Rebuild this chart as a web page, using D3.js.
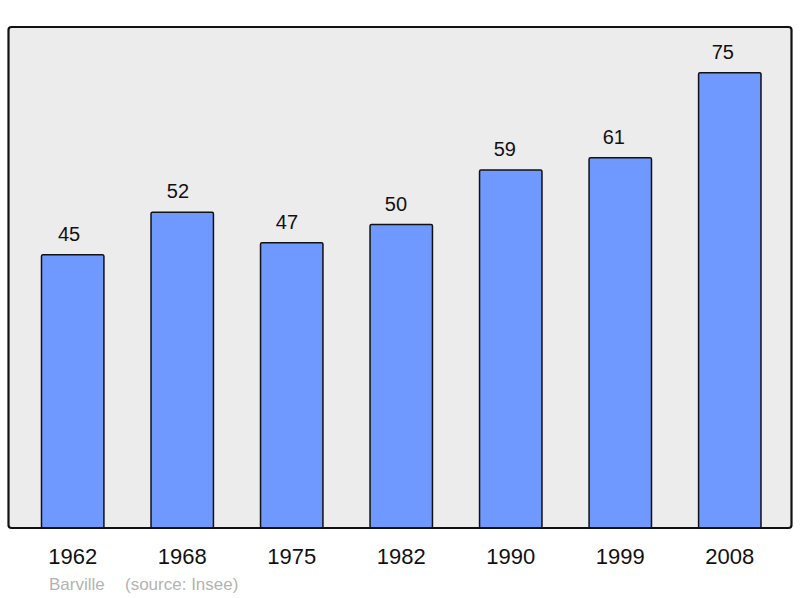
<!DOCTYPE html>
<html><head><meta charset="utf-8">
<script src="https://cdn.jsdelivr.net/npm/d3@7"></script>
<style>body{margin:0;background:#fff}svg{display:block}</style>
</head><body>
<script>
const years = ["1962","1968","1975","1982","1990","1999","2008"];
const population = [45,52,47,50,59,61,75];
const townName = "Barville";
const sourceText = "(source: Insee)";

const W = 800, H = 598;
const svg = d3.select("body").append("svg").attr("width", W).attr("height", H);
const frame = {x0: 8.5, y0: 27, x1: 791.5, y1: 528};

svg.append("rect").attr("x", frame.x0).attr("y", frame.y0)
  .attr("width", frame.x1 - frame.x0).attr("height", frame.y1 - frame.y0)
  .attr("rx", 3).attr("fill", "#ececec");

const x = d3.scaleBand().domain(years).range([18.5, 784]).paddingInner(0.43).paddingOuter(0.21);
const xLabel = d3.scalePoint().domain(years).range([69, 722.8]);
const y = d3.scaleLinear().domain([0, 82.54]).range([frame.y1, frame.y0]);

const g = svg.append("g");
g.selectAll("rect.bar").data(population).join("rect").attr("class","bar")
  .attr("x", (d,i) => x(years[i]))
  .attr("y", d => y(d))
  .attr("width", x.bandwidth())
  .attr("height", d => y(0) - y(d))
  .attr("rx", 1.5)
  .attr("fill", "#7099ff").attr("stroke", "#111").attr("stroke-width", 1.5);

g.selectAll("text.val").data(population).join("text").attr("class","val")
  .attr("x", (d,i) => xLabel(years[i]))
  .attr("y", d => y(d) - 14)
  .attr("text-anchor", "middle")
  .attr("font-family", "Liberation Sans, Arial, sans-serif")
  .attr("font-size", 20).attr("fill", "#111")
  .text(d => d);

svg.append("rect").attr("x", frame.x0).attr("y", frame.y0)
  .attr("width", frame.x1 - frame.x0).attr("height", frame.y1 - frame.y0)
  .attr("rx", 3).attr("fill", "none").attr("stroke", "#111").attr("stroke-width", 2.2);

const axis = d3.axisBottom(x).tickSize(0).tickPadding(0);
const ax = svg.append("g").attr("transform", `translate(0,${frame.y1})`).call(axis);
ax.select(".domain").remove();
ax.selectAll("text").attr("font-family", "Liberation Sans, Arial, sans-serif")
  .attr("font-size", 22).attr("fill", "#111").attr("dy", null).attr("y", 36);

svg.append("text").attr("x", 49).attr("y", 590)
  .attr("font-family", "Liberation Sans, Arial, sans-serif")
  .attr("font-size", 17).attr("fill", "#b3b3b3").text(townName);
svg.append("text").attr("x", 125).attr("y", 590)
  .attr("font-family", "Liberation Sans, Arial, sans-serif")
  .attr("font-size", 17).attr("fill", "#b3b3b3").text(sourceText);
</script>
</body></html>
